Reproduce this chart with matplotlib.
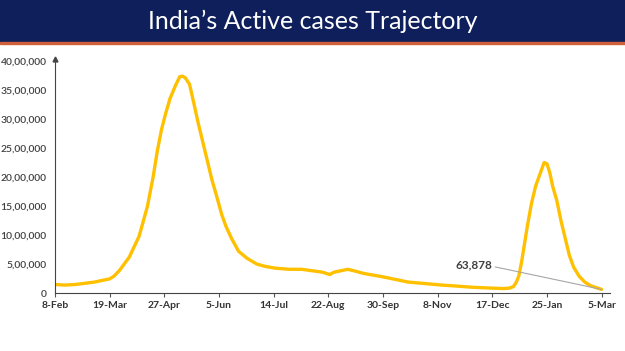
import matplotlib
matplotlib.use("Agg")
import matplotlib.pyplot as plt
from matplotlib.patches import Rectangle
import pandas as pd

# active cases in lakh
dates = ["2021-02-08", "2021-02-15", "2021-02-22", "2021-03-01", "2021-03-08", "2021-03-12",
         "2021-03-19", "2021-03-22", "2021-03-26", "2021-04-02", "2021-04-09", "2021-04-15",
         "2021-04-19", "2021-04-22", "2021-04-25", "2021-04-28", "2021-05-01", "2021-05-05",
         "2021-05-08", "2021-05-10", "2021-05-12", "2021-05-15", "2021-05-18", "2021-05-21",
         "2021-05-24", "2021-05-27", "2021-05-31", "2021-06-03", "2021-06-07", "2021-06-10",
         "2021-06-14", "2021-06-19", "2021-06-25", "2021-07-02", "2021-07-08", "2021-07-15",
         "2021-07-25", "2021-08-03", "2021-08-12", "2021-08-18", "2021-08-23", "2021-08-26",
         "2021-09-01", "2021-09-05", "2021-09-10", "2021-09-16", "2021-09-23", "2021-09-30",
         "2021-10-10", "2021-10-18", "2021-11-01", "2021-11-10", "2021-11-22", "2021-12-03",
         "2021-12-14", "2021-12-25", "2021-12-29", "2022-01-01", "2022-01-03", "2022-01-05",
         "2022-01-07", "2022-01-09", "2022-01-11", "2022-01-14", "2022-01-17", "2022-01-20",
         "2022-01-23", "2022-01-25", "2022-01-27", "2022-01-29", "2022-02-01", "2022-02-04",
         "2022-02-07", "2022-02-10", "2022-02-13", "2022-02-17", "2022-02-21", "2022-02-25",
         "2022-03-01", "2022-03-05"]
active_lakh = [1.48, 1.38, 1.47, 1.68, 1.89, 2.10,
               2.45, 2.9, 3.9, 6.2, 9.8, 15.0,
               20.0, 24.5, 28.2, 31.0, 33.5, 35.8,
               37.3, 37.4, 37.1, 36.0, 32.8, 29.5,
               26.5, 23.5, 19.5, 17.0, 13.5, 11.5,
               9.4, 7.2, 6.0, 5.0, 4.6, 4.3,
               4.1, 4.1, 3.8, 3.6, 3.2, 3.6,
               3.9, 4.1, 3.8, 3.4, 3.1, 2.8,
               2.3, 1.9, 1.6, 1.4, 1.2, 1.0,
               0.88, 0.78, 0.85, 1.1, 1.8, 3.0,
               5.5, 8.5, 11.5, 15.5, 18.5, 20.5,
               22.5, 22.3, 20.8, 18.5, 16.0, 12.5,
               9.5, 6.5, 4.5, 2.9, 1.9, 1.3,
               0.95, 0.64]

tick_dates = ["2021-02-08", "2021-03-19", "2021-04-27", "2021-06-05", "2021-07-14", "2021-08-22",
              "2021-09-30", "2021-11-08", "2021-12-17", "2022-01-25", "2022-03-05"]
tick_labels = ["8-Feb", "19-Mar", "27-Apr", "5-Jun", "14-Jul", "22-Aug",
               "30-Sep", "8-Nov", "17-Dec", "25-Jan", "5-Mar"]
y_ticks = [0, 500000, 1000000, 1500000, 2000000, 2500000, 3000000, 3500000, 4000000]
last_value = 63878

x = pd.to_datetime(dates)
y = [v * 100000 for v in active_lakh]
y[-1] = last_value


def indian_fmt(v):
    s = str(int(v))
    if len(s) <= 3:
        return s
    head, tail = s[:-3], s[-3:]
    parts = []
    while len(head) > 2:
        parts.insert(0, head[-2:])
        head = head[:-2]
    if head:
        parts.insert(0, head)
    return ",".join(parts) + "," + tail


plt.rcParams['font.family'] = ['Lato', 'DejaVu Sans']
fig = plt.figure(figsize=(6.25, 3.51), dpi=100)

# title banner
fig.patches.append(Rectangle((0, 0.88), 1, 0.12, transform=fig.transFigure,
                             color="#0e1f5b", zorder=0))
fig.patches.append(Rectangle((0, 0.874), 1, 0.007, transform=fig.transFigure,
                             color="#d0603a", zorder=0))
fig.text(0.5, 0.94, "India\u2019s Active cases Trajectory", color="white",
         fontsize=18, ha="center", va="center")

ax = fig.add_axes([0.088, 0.165, 0.888, 0.661])
ax.plot(x, y, color="#FFC000", lw=2.4, solid_capstyle="round")

ax.set_xlim(pd.Timestamp("2021-02-08"), pd.Timestamp("2022-03-11"))
ax.set_ylim(0, 4000000)
ax.set_xticks(pd.to_datetime(tick_dates))
ax.set_xticklabels(tick_labels, fontsize=7.5, fontweight="bold", color="#333333")
ax.set_yticks(y_ticks)
ax.set_yticklabels([indian_fmt(v) for v in y_ticks], fontsize=7.5, fontweight="semibold",
                   color="#404040")
ax.tick_params(axis="y", length=0, pad=6)
ax.tick_params(axis="x", length=3, color="#555555", pad=3)

for s in ["top", "right"]:
    ax.spines[s].set_visible(False)
ax.spines["left"].set_color("#444444")
ax.spines["bottom"].set_color("#444444")
ax.spines["left"].set_linewidth(0.8)
ax.spines["bottom"].set_linewidth(0.8)

# arrow head on the y axis
ax.plot(0, 1.01, "^", color="#444444", markersize=3.5, transform=ax.transAxes, clip_on=False)

ax.annotate("63,878", xy=(x[-1], last_value), xytext=(pd.Timestamp("2021-12-04"), 480000),
            fontsize=8.5, fontweight="bold", color="#404040", ha="center", va="center",
            arrowprops=dict(arrowstyle="-", color="#a6a6a6", lw=0.8, shrinkA=0, shrinkB=0,
                            relpos=(1.0, 0.4)))

fig.savefig("out.png", dpi=100)
